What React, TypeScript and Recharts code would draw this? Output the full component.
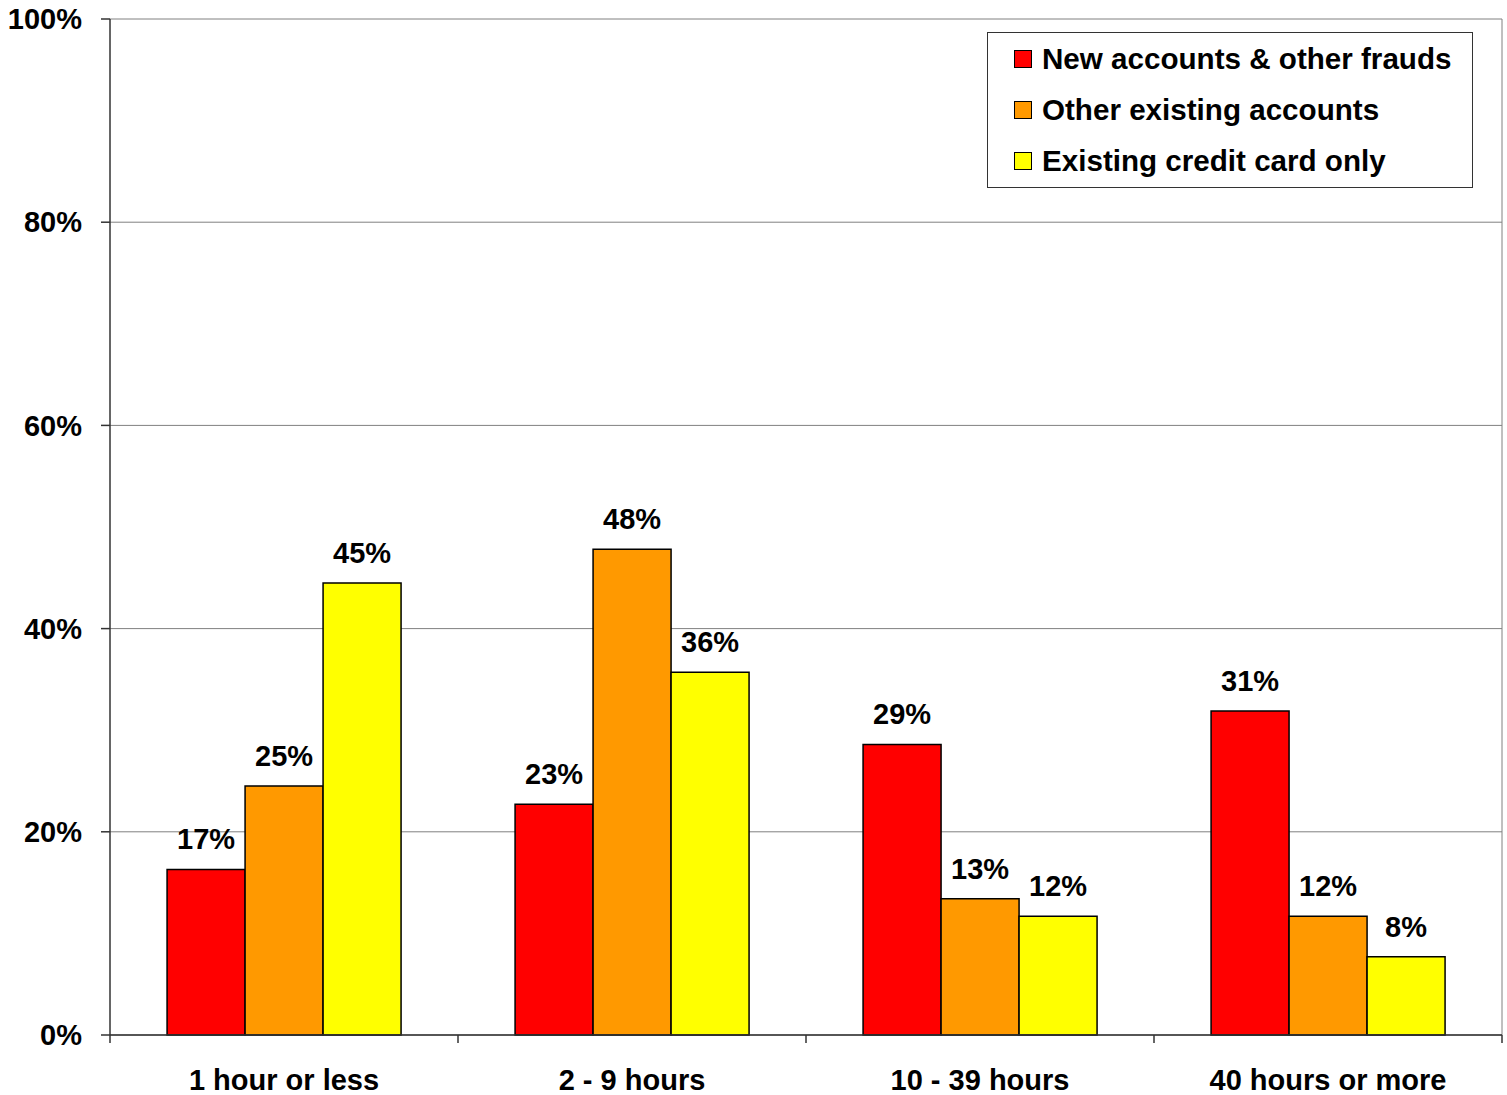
import { BarChart, Bar, XAxis, YAxis, CartesianGrid, Legend, LabelList } from 'recharts'

const categories = ['1 hour or less', '2 - 9 hours', '10 - 39 hours', '40 hours or more']
const seriesNames = ['New accounts & other frauds', 'Other existing accounts', 'Existing credit card only']
const newAccounts = [16.3, 22.7, 28.6, 31.9]
const otherExisting = [24.5, 47.8, 13.4, 11.7]
const creditCardOnly = [44.5, 35.7, 11.7, 7.7]
const newAccountsLabels = ['17%', '23%', '29%', '31%']
const otherExistingLabels = ['25%', '48%', '13%', '12%']
const creditCardOnlyLabels = ['45%', '36%', '12%', '8%']
const yTicks = [0, 20, 40, 60, 80, 100]

const data = categories.map((cat, i) => ({
  cat,
  newAccounts: newAccounts[i],
  otherExisting: otherExisting[i],
  creditCardOnly: creditCardOnly[i],
  newAccountsLabel: newAccountsLabels[i],
  otherExistingLabel: otherExistingLabels[i],
  creditCardOnlyLabel: creditCardOnlyLabels[i],
}))

const FONT = '"Liberation Sans", Arial, sans-serif'
const AXIS = '#333'
const labelStyle = { fill: '#000', fontSize: 29, fontWeight: 'bold', fontFamily: FONT }

function CategoryTick(props: any) {
  const { x, y, payload, index } = props
  const half = payload.offset ?? 0
  return (
    <g>
      <line x1={x - half} x2={x - half} y1={y} y2={y + 8} stroke={AXIS} strokeWidth={1.5} />
      {index === categories.length - 1 && (
        <line x1={x + half} x2={x + half} y1={y} y2={y + 8} stroke={AXIS} strokeWidth={1.5} />
      )}
      <text x={x} y={y + 55} textAnchor="middle" {...labelStyle}>
        {payload.value}
      </text>
    </g>
  )
}

function LegendBox(props: any) {
  const items = [...(props.payload || [])].sort(
    (a: any, b: any) => seriesNames.indexOf(a.value) - seriesNames.indexOf(b.value)
  )
  return (
    <div
      style={{
        width: 486,
        height: 156,
        boxSizing: 'border-box',
        border: '1.5px solid #333',
        background: '#fff',
        paddingTop: 0,
        paddingLeft: 26,
        fontFamily: FONT,
        fontWeight: 'bold',
        fontSize: 29.6,
        color: '#000',
      }}
    >
      {items.map((it: any) => (
        <div key={it.value} style={{ height: 51, lineHeight: '51px', display: 'flex', alignItems: 'center', whiteSpace: 'nowrap' }}>
          <span
            style={{
              display: 'inline-block',
              width: 18,
              height: 18,
              boxSizing: 'border-box',
              border: '1.5px solid #000',
              background: it.color,
              marginRight: 10,
            }}
          />
          {it.value}
        </div>
      ))}
    </div>
  )
}

export default function App() {
  return (
    <div style={{ position: 'absolute', left: 0, top: 0, background: '#fff' }}>
      <BarChart
        width={1507}
        height={1095}
        data={data}
        margin={{ top: 19, right: 5, left: 0, bottom: 0 }}
        barCategoryGap="16.4%"
        barGap={0}
      >
        <CartesianGrid
          stroke="#808080"
          strokeWidth={1}
          vertical={true}
          verticalCoordinatesGenerator={({ offset }: any) => [offset.left + offset.width]}
        />
        <XAxis
          dataKey="cat"
          height={60}
          interval={0}
          axisLine={{ stroke: AXIS, strokeWidth: 1.5 }}
          tickLine={false}
          tickSize={0}
          tickMargin={0}
          tick={<CategoryTick />}
        />
        <YAxis
          width={110}
          domain={[0, 100]}
          ticks={yTicks}
          interval={0}
          tickFormatter={(v: number) => `${v}%`}
          axisLine={{ stroke: AXIS, strokeWidth: 1.5 }}
          tickLine={{ stroke: AXIS, strokeWidth: 1.5 }}
          tickSize={9}
          tickMargin={19}
          tick={labelStyle}
        />
        <Legend
          layout="vertical"
          align="center"
          verticalAlign="middle"
          itemSorter={null}
          wrapperStyle={{ left: 987, top: 32, width: 486, height: 156 }}
          content={<LegendBox />}
        />
        <Bar dataKey="newAccounts" name={seriesNames[0]} fill="#FF0000" stroke="#000" strokeWidth={1.5} isAnimationActive={false}>
          <LabelList dataKey="newAccountsLabel" position="top" offset={20} style={labelStyle} />
        </Bar>
        <Bar dataKey="otherExisting" name={seriesNames[1]} fill="#FF9900" stroke="#000" strokeWidth={1.5} isAnimationActive={false}>
          <LabelList dataKey="otherExistingLabel" position="top" offset={20} style={labelStyle} />
        </Bar>
        <Bar dataKey="creditCardOnly" name={seriesNames[2]} fill="#FFFF00" stroke="#000" strokeWidth={1.5} isAnimationActive={false}>
          <LabelList dataKey="creditCardOnlyLabel" position="top" offset={20} style={labelStyle} />
        </Bar>
      </BarChart>
    </div>
  )
}
